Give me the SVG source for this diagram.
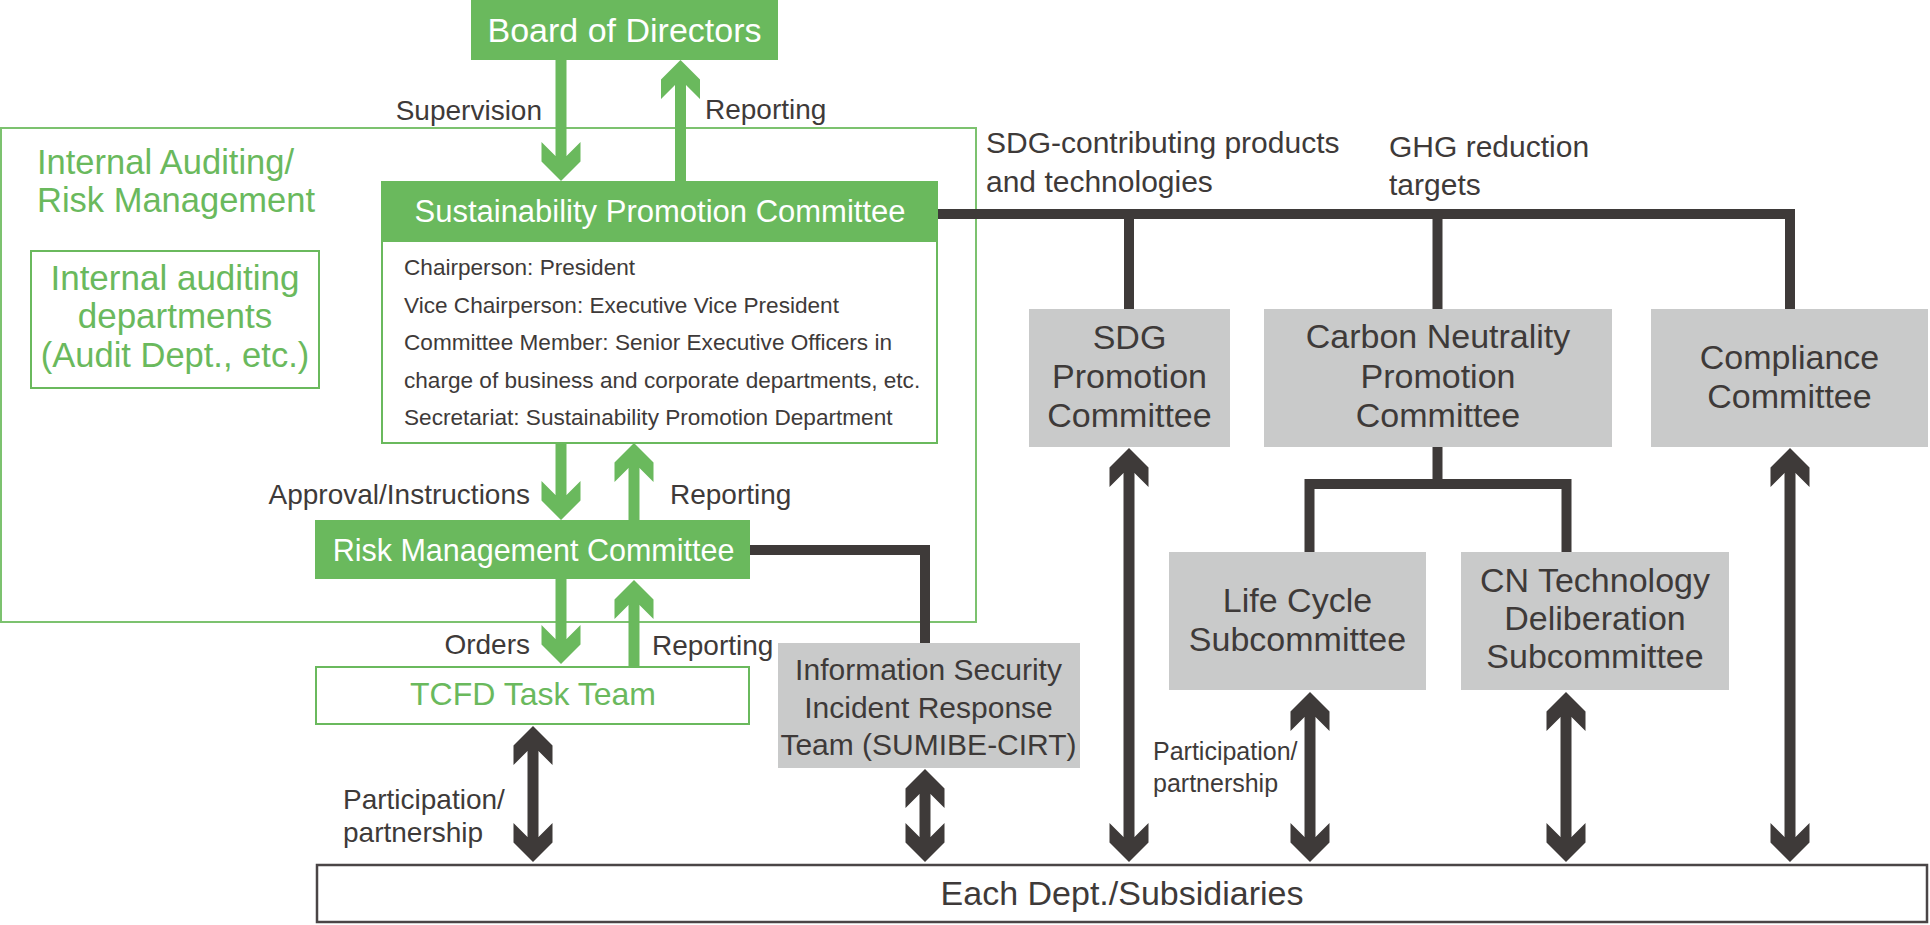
<svg xmlns="http://www.w3.org/2000/svg" width="1930" height="925" viewBox="0 0 1930 925">
<style>
text{font-family:"Liberation Sans",Arial,sans-serif;fill:#3e3a39}
.c{text-anchor:middle}
.e{text-anchor:end}
.w{fill:#fff}
.gt{fill:#6ab95d}
.lbl{font-size:28px}
.bx{font-size:34px}
.body{font-size:22.6px}
.gfill{fill:#6ab95d}
.gline{fill:#fff;stroke:#6ab95d;stroke-width:2}
.frame{fill:none;stroke:#7cc26f;stroke-width:2}
.gray{fill:#c9caca}
.dk{fill:none;stroke:#3e3a39;stroke-width:10;stroke-linejoin:miter}
.ga{stroke:#6ab95d;stroke-width:11;fill:none}
.da{stroke:#3e3a39;stroke-width:11;fill:none}
</style>
<defs>
<marker id="hg" markerUnits="userSpaceOnUse" orient="auto-start-reverse" refX="0" refY="0" markerWidth="40" markerHeight="40" overflow="visible">
<path d="M25,0 L5.5,19.5 L-14,19.5 L0,5.5 L0,-5.5 L-14,-19.5 L5.5,-19.5 Z" fill="#6ab95d"/>
</marker>
<marker id="hd" markerUnits="userSpaceOnUse" orient="auto-start-reverse" refX="0" refY="0" markerWidth="40" markerHeight="40" overflow="visible">
<path d="M25,0 L5.5,19.5 L-14,19.5 L0,5.5 L0,-5.5 L-14,-19.5 L5.5,-19.5 Z" fill="#3e3a39"/>
</marker>
</defs>

<g id="frame-internal-auditing-risk">
<rect class="frame" x="1" y="128" width="975" height="494"/>
<text class="gt" style="font-size:34.5px" x="37" y="174">Internal Auditing/</text>
<text class="gt" style="font-size:34.5px" x="37" y="212">Risk Management</text>
</g>

<g id="connectors">
<path class="dk" d="M938,214 H1790 V309"/>
<path class="dk" d="M1129,214 V309"/>
<path class="dk" d="M1437.5,214 V309"/>
<path class="dk" d="M1437.5,447 V484"/>
<path class="dk" d="M1309.5,552 V484 H1566.5 V552"/>
<path class="dk" d="M750,550 H925 V643"/>
<line class="ga" x1="561" y1="60" x2="561" y2="156" marker-end="url(#hg)"/>
<line class="ga" x1="680.5" y1="181" x2="680.5" y2="85" marker-end="url(#hg)"/>
<line class="ga" x1="561" y1="443" x2="561" y2="495" marker-end="url(#hg)"/>
<line class="ga" x1="634" y1="520" x2="634" y2="468" marker-end="url(#hg)"/>
<line class="ga" x1="561" y1="579" x2="561" y2="639" marker-end="url(#hg)"/>
<line class="ga" x1="634" y1="666" x2="634" y2="605" marker-end="url(#hg)"/>
<line class="da" x1="533" y1="751" x2="533" y2="837" marker-start="url(#hd)" marker-end="url(#hd)"/>
<line class="da" x1="925" y1="794" x2="925" y2="837" marker-start="url(#hd)" marker-end="url(#hd)"/>
<line class="da" x1="1129" y1="473" x2="1129" y2="837" marker-start="url(#hd)" marker-end="url(#hd)"/>
<line class="da" x1="1310" y1="717" x2="1310" y2="837" marker-start="url(#hd)" marker-end="url(#hd)"/>
<line class="da" x1="1566" y1="717" x2="1566" y2="837" marker-start="url(#hd)" marker-end="url(#hd)"/>
<line class="da" x1="1790" y1="473" x2="1790" y2="837" marker-start="url(#hd)" marker-end="url(#hd)"/>
</g>

<g id="connector-labels">
<text class="lbl e" x="542" y="120">Supervision</text>
<text class="lbl" x="705" y="119">Reporting</text>
<text class="lbl e" x="530" y="504">Approval/Instructions</text>
<text class="lbl" x="670" y="504">Reporting</text>
<text class="lbl e" x="530" y="654">Orders</text>
<text class="lbl" x="652" y="655">Reporting</text>
<text class="lbl" x="343" y="809">Participation/</text>
<text class="lbl" x="343" y="842">partnership</text>
<text style="font-size:25px" x="1153" y="760">Participation/</text>
<text style="font-size:25px" x="1153" y="792">partnership</text>
<text style="font-size:30px" x="986" y="153">SDG-contributing products</text>
<text style="font-size:30px" x="986" y="192">and technologies</text>
<text style="font-size:30px" x="1389" y="157">GHG reduction</text>
<text style="font-size:30px" x="1389" y="195">targets</text>
</g>

<g id="board-of-directors">
<rect class="gfill" x="471" y="0" width="307" height="60"/>
<text class="w c" style="font-size:34px" x="624.5" y="42">Board of Directors</text>
</g>

<g id="internal-auditing-departments">
<rect class="gline" x="31" y="251" width="288" height="137"/>
<text class="gt c" style="font-size:35px" x="175" y="290">Internal auditing</text>
<text class="gt c" style="font-size:35px" x="175" y="328">departments</text>
<text class="gt c" style="font-size:34.5px" x="175" y="367">(Audit Dept., etc.)</text>
</g>

<g id="sustainability-promotion-committee">
<rect class="gline" x="382" y="241" width="555" height="202"/>
<rect class="gfill" x="381" y="181" width="557" height="60"/>
<text class="w c" style="font-size:31px" x="660" y="222">Sustainability Promotion Committee</text>
<text class="body" x="404" y="275">Chairperson: President</text>
<text class="body" x="404" y="313">Vice Chairperson: Executive Vice President</text>
<text class="body" x="404" y="350">Committee Member: Senior Executive Officers in</text>
<text class="body" x="404" y="388">charge of business and corporate departments, etc.</text>
<text class="body" x="404" y="425">Secretariat: Sustainability Promotion Department</text>
</g>

<g id="risk-management-committee">
<rect class="gfill" x="315" y="520" width="435" height="59"/>
<text class="w c" style="font-size:30.5px" x="533.5" y="561">Risk Management Committee</text>
</g>

<g id="tcfd-task-team">
<rect class="gline" x="316" y="667" width="433" height="57"/>
<text class="gt c" style="font-size:32px" x="533" y="705">TCFD Task Team</text>
</g>

<g id="information-security-cirt">
<rect class="gray" x="778" y="643" width="302" height="125"/>
<text class="c" style="font-size:30px" x="928.5" y="680">Information Security</text>
<text class="c" style="font-size:30px" x="928.5" y="718">Incident Response</text>
<text class="c" style="font-size:30px" x="928.5" y="755">Team (SUMIBE-CIRT)</text>
</g>

<g id="sdg-promotion-committee">
<rect class="gray" x="1029" y="309" width="201" height="138"/>
<text class="c bx" x="1129.5" y="349">SDG</text>
<text class="c bx" x="1129.5" y="388">Promotion</text>
<text class="c bx" x="1129.5" y="427">Committee</text>
</g>

<g id="carbon-neutrality-promotion-committee">
<rect class="gray" x="1264" y="309" width="348" height="138"/>
<text class="c bx" x="1438" y="348">Carbon Neutrality</text>
<text class="c bx" x="1438" y="388">Promotion</text>
<text class="c bx" x="1438" y="427">Committee</text>
</g>

<g id="compliance-committee">
<rect class="gray" x="1651" y="309" width="277" height="138"/>
<text class="c bx" x="1789.5" y="369">Compliance</text>
<text class="c bx" x="1789.5" y="408">Committee</text>
</g>

<g id="life-cycle-subcommittee">
<rect class="gray" x="1169" y="552" width="257" height="138"/>
<text class="c bx" x="1297.5" y="612">Life Cycle</text>
<text class="c bx" x="1297.5" y="651">Subcommittee</text>
</g>

<g id="cn-technology-deliberation-subcommittee">
<rect class="gray" x="1461" y="552" width="268" height="138"/>
<text class="c bx" x="1595" y="592">CN Technology</text>
<text class="c bx" x="1595" y="630">Deliberation</text>
<text class="c bx" x="1595" y="668">Subcommittee</text>
</g>

<g id="each-dept-subsidiaries">
<rect x="317" y="865" width="1610" height="57" fill="#fff" stroke="#4a4546" stroke-width="2.5"/>
<text class="c bx" x="1122" y="905">Each Dept./Subsidiaries</text>
</g>
</svg>
